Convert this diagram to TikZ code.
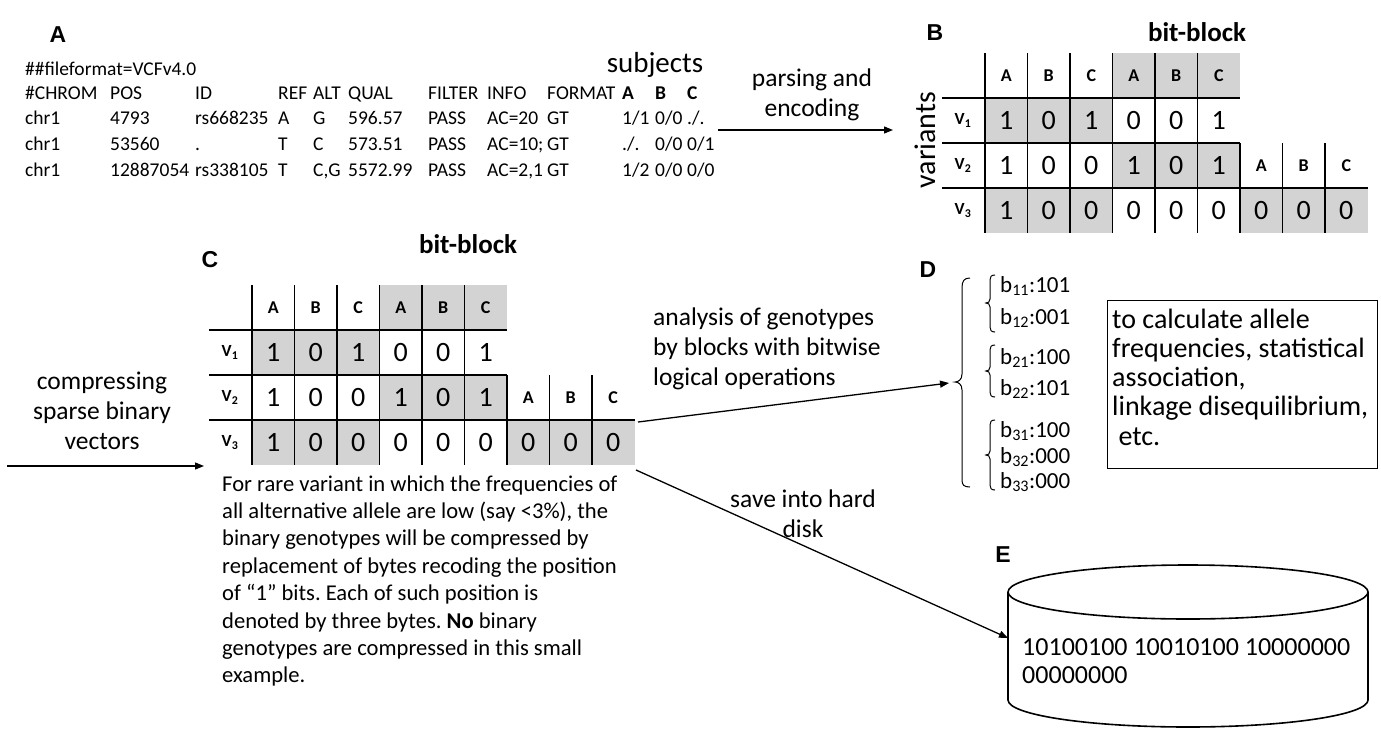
\documentclass[tikz,border=0pt]{standalone}
\usepackage{fontspec}
\setmainfont{Carlito}
\newfontfamily\labelfont{Liberation Sans}
\usetikzlibrary{arrows.meta}
\frenchspacing

\definecolor{cellgray}{RGB}{211,211,211}

% font sizes (1pt = 1 unit of the picture)
\newcommand\vcffont{\fontsize{19.5}{25.5}\selectfont}
\newcommand\notefont{\fontsize{25.5}{30}\selectfont}
\newcommand\bodyfont{\fontsize{22.6}{27.4}\selectfont}
\newcommand\boxfont{\fontsize{28}{29.3}\selectfont}
\newcommand\digitfont{\fontsize{28}{30}\selectfont}
\newcommand\headfont{\fontsize{18}{20}\selectfont\bfseries}
\newcommand\vfont{\fontsize{17}{20}\selectfont\bfseries}

\def\cw{42.5}
\def\rh{45}

% one bit-block table; #1 name prefix, (#2,#3) top of the first data column
\newcommand\bitblock[3]{%
\begin{scope}[shift={(#2,#3)}]
  \fill[cellgray] (3*\cw,0) rectangle (6*\cw,\rh);
  \fill[cellgray] (0,\rh) rectangle (3*\cw,2*\rh);
  \fill[cellgray] (3*\cw,2*\rh) rectangle (6*\cw,3*\rh);
  \fill[cellgray] (0,3*\rh) rectangle (3*\cw,4*\rh);
  \fill[cellgray] (6*\cw,3*\rh) rectangle (9*\cw,4*\rh);
  \draw[tbl] (-43,\rh) -- (6*\cw,\rh);
  \draw[tbl] (-43,2*\rh) -- (6*\cw,2*\rh);
  \draw[tbl] (-43,3*\rh) -- (9*\cw,3*\rh);
  \foreach \k in {0,...,5} \draw[tbl] (\k*\cw,0) -- (\k*\cw,4*\rh);
  \foreach \k in {6,7,8} \draw[tbl] (\k*\cw,2*\rh) -- (\k*\cw,4*\rh);
  \foreach \t [count=\i] in {A,B,C,A,B,C}
    \node[hd] (#1-h-\i) at ({(\i-0.5)*\cw},{0.5*\rh}) {\t};
  \foreach \t [count=\i] in {A,B,C}
    \node[hd] (#1-g-\i) at ({(\i+5.5)*\cw},{2.5*\rh}) {\t};
  \foreach \r in {1,2,3}
    \node[vl] (#1-v-\r) at (-22,{(\r+0.5)*\rh}) {V\textsubscript{\r}};
  \foreach \t [count=\i] in {1,0,1,0,0,1}
    \node[dg] (#1-a-\i) at ({(\i-0.5)*\cw},{1.5*\rh}) {\t};
  \foreach \t [count=\i] in {1,0,0,1,0,1}
    \node[dg] (#1-b-\i) at ({(\i-0.5)*\cw},{2.5*\rh}) {\t};
  \foreach \t [count=\i] in {1,0,0,0,0,0,0,0,0}
    \node[dg] (#1-c-\i) at ({(\i-0.5)*\cw},{3.5*\rh}) {\t};
\end{scope}}

% curly bracket of the block list
\newcommand\sbrace[3]{%
  \draw[brace] (995,#1) .. controls (991,#1) and (990,#1+2) .. (990,#1+5)
    -- (990,#2-4) .. controls (990,#2-1) and (988,#2) .. (986,#2)
    .. controls (988,#2) and (990,#2+1) .. (990,#2+4)
    -- (990,#3-5) .. controls (990,#3-2) and (991,#3) .. (995,#3);}

\begin{document}
\begin{tikzpicture}[x=1pt,y=-1pt,
  panel/.style={font=\fontsize{23}{25}\selectfont\labelfont\bfseries, inner sep=0},
  vcf/.style={font=\vcffont, anchor=base west, inner sep=0},
  vcfb/.style={vcf, font=\vcffont\bfseries},
  note/.style={font=\notefont, align=center, inner sep=0},
  title/.style={font=\fontsize{27}{30}\selectfont\bfseries, inner sep=0},
  tbl/.style={line width=1.6pt},
  hd/.style={font=\headfont, inner sep=0},
  vl/.style={font=\vfont, inner sep=0},
  dg/.style={font=\digitfont, inner sep=0},
  arr/.style={line width=1.3pt, -{Triangle[length=9pt,width=7pt]}},
  brace/.style={line width=1pt},
  blab/.style={font=\fontsize{23}{24}\selectfont, anchor=west, inner sep=0},
  cyl/.style={line width=1.6pt}]

\useasboundingbox (0,0) rectangle (1381,731);
\fill[white] (0,0) rectangle (1381,731);

% ---- A: VCF records ----
\node[panel] (labA) at (58,35) {A};
\node[vcf] (ff) at (25,75) {\#\#fileformat=VCFv4.0};
\foreach \x/\t [count=\k] in {25/\#CHROM,110/POS,195/ID,278/REF,313/ALT,348/QUAL,428/FILTER,487/INFO,547/FORMAT}
  \node[vcf] (hdr-\k) at (\x,99) {\t};
\foreach \x/\t [count=\k] in {622/A,655/B,687/C}
  \node[vcfb] (subj-\k) at (\x,99) {\t};
\foreach \x/\t [count=\k] in {25/chr1,110/4793,195/rs668235,278/A,313/G,348/596.57,428/PASS,487/AC=20,547/GT,622/1\slash 1,655/0\slash 0,687/.\slash .}
  \node[vcf] (r1-\k) at (\x,124) {\t};
\foreach \x/\t [count=\k] in {25/chr1,110/53560,195/.,278/T,313/C,348/573.51,428/PASS,487/AC=10;,547/GT,622/.\slash .,655/0\slash 0,687/0\slash 1}
  \node[vcf] (r2-\k) at (\x,150) {\t};
\foreach \x/\t [count=\k] in {25/chr1,110/12887054,195/rs338105,278/T,313/{C,G},348/5572.99,428/PASS,487/{AC=2,1},547/GT,622/1\slash 2,655/0\slash 0,687/0\slash 0}
  \node[vcf] (r3-\k) at (\x,176) {\t};
\node[font=\fontsize{29}{30}\selectfont, inner sep=0] (subjects) at (655,65) {subjects};

% parsing arrow
\node[note] (parse) at (812,95) {parsing and\\encoding};
\coordinate (p1) at (718,130);
\coordinate (p2) at (893,130);
\draw[arr] (p1) -- (p2);

% ---- B: bit-block ----
\node[panel] (labB) at (935,33) {B};
\node[title] (titB) at (1197,32) {bit-block};
\node[font=\fontsize{30}{32}\selectfont, rotate=90, inner sep=0] (variants) at (925,140) {variants};
\bitblock{B}{985}{53}

% ---- C: compressed bit-block ----
\node[panel] (labC) at (210,260) {C};
\node[title] (titC) at (468,244) {bit-block};
\bitblock{C}{252}{285}

\node[note] (compress) at (102,411) {compressing\\sparse binary\\vectors};
\coordinate (c1) at (7,466);
\coordinate (c2) at (204,466);
\draw[arr] (c1) -- (c2);

\node[font=\bodyfont, align=left, anchor=west, inner sep=0] (rare) at (222,581)
  {For rare variant in which the frequencies of\\
   all alternative allele are low (say <3\%), the\\
   binary genotypes will be compressed by\\
   replacement of bytes recoding the position\\
   of “1” bits. Each of such position is\\
   denoted by three bytes. \textbf{No} binary\\
   genotypes are compressed in this small\\
   example.};

% analysis arrow to D
\node[note, align=left, anchor=west] (analysis) at (653,349)
  {analysis of genotypes\\by blocks with bitwise\\logical operations};
\coordinate (Cout) at (638,422);
\coordinate (Dtip) at (949,383);
\draw[arr] (Cout) -- (Dtip);

% save arrow to E
\node[note] (save) at (803,514) {save into hard\\disk};
\coordinate (Csave) at (636,470);
\coordinate (Ein) at (1008,638);
\draw[arr] (Csave) -- (Ein);

% ---- D: blocks ----
\node[panel] (labD) at (928,270) {D};
\draw[brace] (970,278) .. controls (964,278) and (962,281) .. (962,288)
  -- (962,374) .. controls (962,380) and (958,382) .. (955,382)
  .. controls (958,382) and (962,384) .. (962,390)
  -- (962,480) .. controls (962,485) and (964,487) .. (970,487);
\sbrace{275}{303}{332}
\sbrace{345}{371}{397}
\sbrace{420}{455}{490}
\foreach \y/\t [count=\k] in {286/{b\textsubscript{11}:101},318/{b\textsubscript{12}:001},358/{b\textsubscript{21}:100},389/{b\textsubscript{22}:101},431/{b\textsubscript{31}:100},457/{b\textsubscript{32}:000},482/{b\textsubscript{33}:000}}
  \node[blab] (bb-\k) at (1000,\y) {\t};

\node[draw, line width=1.4pt, minimum width=270pt, minimum height=168pt, anchor=north west, inner sep=0] (goal) at (1107,300) {};
\node[font=\boxfont, align=left, anchor=west, inner sep=0] (goaltxt) at (1112,377)
  {to calculate allele\\frequencies, statistical\\association,\\linkage disequilibrium,\\\ etc.};

% ---- E: hard disk ----
\node[panel] (labE) at (1003,555) {E};
\draw[cyl] (1188,592) ellipse [x radius=180pt, y radius=27pt];
\draw[cyl] (1008,592) -- (1008,700) arc [start angle=180, end angle=360, x radius=180pt, y radius=27pt] -- (1368,592);
\node[font=\fontsize{26}{28}\selectfont, align=left, anchor=west, inner sep=0] (bytes) at (1022,661)
  {10100100 10010100 10000000\\00000000};
\end{tikzpicture}
\end{document}
